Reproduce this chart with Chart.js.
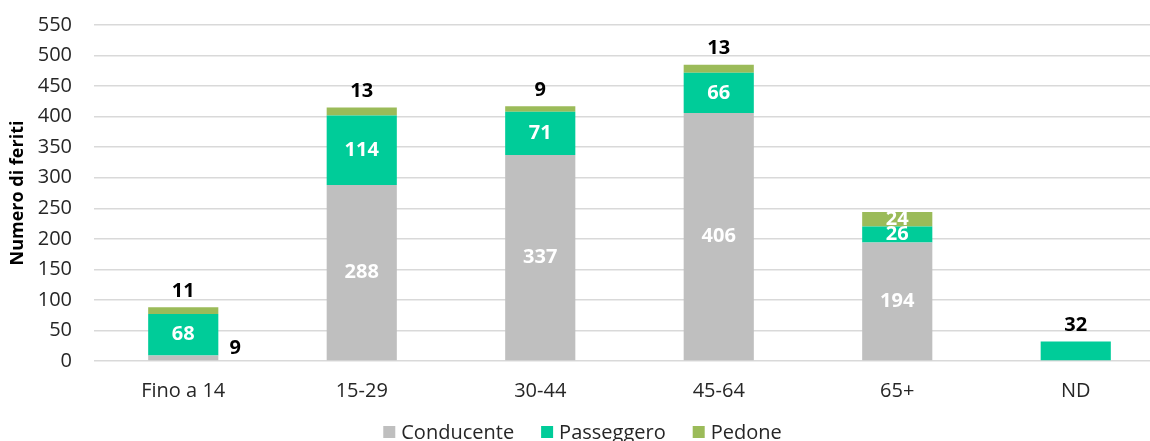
<!DOCTYPE html>
<html>
<head>
<meta charset="utf-8">
<script src="https://cdn.jsdelivr.net/npm/chart.js@4/dist/chart.umd.min.js"></script>
<style>
  html, body { margin: 0; padding: 0; background: #fff; overflow: hidden; }
  #wrap { width: 1165px; height: 441px; position: relative; }
</style>
</head>
<body>
<div id="wrap"><canvas id="chart"></canvas></div>
<script>
// categorie e serie
const categories = ['Fino a 14', '15-29', '30-44', '45-64', '65+', 'ND'];
const conducente = [9, 288, 337, 406, 194, 0];
const passeggero = [68, 114, 71, 66, 26, 32];
const pedone = [11, 13, 9, 13, 24, 0];
const yTicks = [0, 50, 100, 150, 200, 250, 300, 350, 400, 450, 500, 550];

const FONT = "'Open Sans', 'Liberation Sans', sans-serif";

// dove mettere le etichette: 'in' = centro segmento, 'top' = sopra, 'right' = a destra
function labelPlace(ds, i) {
  if (ds === 0) return i === 0 ? 'right' : 'in';
  if (ds === 1) return i === 5 ? 'top' : 'in';
  return i === 4 ? 'in' : 'top';
}

const valueLabels = {
  id: 'valueLabels',
  afterDatasetsDraw(chart) {
    const ctx = chart.ctx;
    ctx.save();
    ctx.font = 'bold 20px ' + FONT;
    ctx.textAlign = 'center';
    ctx.textBaseline = 'middle';
    chart.data.datasets.forEach((ds, d) => {
      const meta = chart.getDatasetMeta(d);
      meta.data.forEach((bar, i) => {
        const v = ds.data[i];
        if (!v) return;
        const place = labelPlace(d, i);
        let x = bar.x, y;
        if (place === 'in') {
          ctx.fillStyle = '#fff';
          y = (bar.y + bar.base) / 2;
        } else if (place === 'top') {
          ctx.fillStyle = '#000';
          y = bar.y - 16;
        } else {
          ctx.fillStyle = '#000';
          x = bar.x + bar.width / 2 + 17;
          y = bar.base - 12;
        }
        ctx.fillText(String(v), x, y);
      });
    });
    ctx.restore();
  }
};

// legenda in basso, disegnata a mano per avere spaziature come l'originale
const bottomLegend = {
  id: 'bottomLegend',
  afterDraw(chart) {
    const ctx = chart.ctx;
    const box = 12, gapText = 6, gapItem = 27, y = 432;
    ctx.save();
    ctx.font = '20px ' + FONT;
    ctx.textBaseline = 'middle';
    const items = chart.data.datasets.map(ds => ({
      text: ds.label, color: ds.backgroundColor, w: ctx.measureText(ds.label).width
    }));
    const total = items.reduce((s, it) => s + box + gapText + it.w, 0) + gapItem * (items.length - 1);
    let x = chart.width / 2 - total / 2;
    items.forEach(it => {
      ctx.fillStyle = it.color;
      ctx.fillRect(x, y - box / 2, box, box);
      ctx.fillStyle = '#262626';
      ctx.fillText(it.text, x + box + gapText, y + 1);
      x += box + gapText + it.w + gapItem;
    });
    ctx.restore();
  }
};

new Chart(document.getElementById('chart'), {
  type: 'bar',
  data: {
    labels: categories,
    datasets: [
      { label: 'Conducente', data: conducente, backgroundColor: '#BFBFBF' },
      { label: 'Passeggero', data: passeggero, backgroundColor: '#00CC99' },
      { label: 'Pedone', data: pedone, backgroundColor: '#9BBB59' }
    ]
  },
  options: {
    responsive: true,
    maintainAspectRatio: false,
    animation: false,
    datasets: { bar: { categoryPercentage: 1, barPercentage: 0.393 } },
    layout: { padding: { top: 25, right: 0, left: 0, bottom: 28 } },
    plugins: {
      legend: { display: false },
      tooltip: { enabled: false }
    },
    scales: {
      x: {
        stacked: true,
        grid: { display: false },
        border: { display: false },
        ticks: { color: '#262626', font: { family: FONT, size: 20 }, padding: 10 }
      },
      y: {
        stacked: true,
        min: 0,
        max: 550,
        afterBuildTicks(axis) { axis.ticks = yTicks.map(v => ({ value: v })); },
        afterFit(axis) {
          axis.width = 94;
          axis.paddingTop = 0;
          axis.paddingBottom = 0;
        },
        grid: { color: '#D9D9D9', lineWidth: 1.5, drawTicks: false },
        border: { display: false },
        ticks: { color: '#262626', font: { family: FONT, size: 20 }, padding: 22 },
        title: {
          display: true,
          text: 'Numero di feriti',
          color: '#000',
          font: { family: FONT, size: 18, weight: 'bold' },
          padding: { top: 7, bottom: 0 }
        }
      }
    }
  },
  plugins: [valueLabels, bottomLegend]
});
</script>
</body>
</html>
